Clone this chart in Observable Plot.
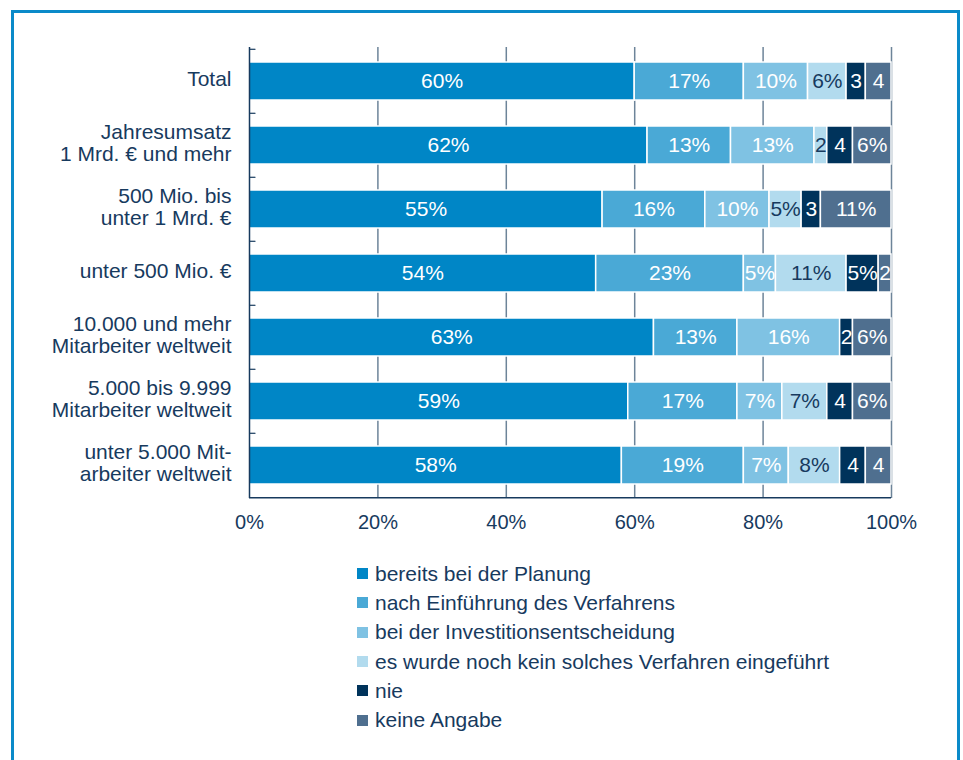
<!DOCTYPE html>
<html>
<head>
<meta charset="utf-8">
<script src="https://cdn.jsdelivr.net/npm/d3@7"></script>
<script src="https://cdn.jsdelivr.net/npm/@observablehq/plot@0.6"></script>
<style>
  html, body { margin: 0; padding: 0; background: #fff; }
  body { width: 963px; height: 760px; overflow: hidden; position: relative; font-family: "Liberation Sans", Arial, sans-serif; }
  #border { position: absolute; left: 11px; top: 10px; width: 949px; height: 800px; border: 3px solid #0a8ac9; box-sizing: border-box; }
  #chart { position: absolute; left: 0; top: 0; }
  #legend { position: absolute; left: 357px; top: 559px; color: #173a5e; font-size: 21px; }
  .item { height: 29.3px; display: flex; align-items: center; }
  .sw { width: 11px; height: 11px; margin-right: 7px; flex: none; }
</style>
</head>
<body>
<div id="border"></div>
<div id="chart"></div>
<div id="legend"></div>
<script>
const categories = [
  "Total",
  "Jahresumsatz\n1 Mrd. € und mehr",
  "500 Mio. bis\nunter 1 Mrd. €",
  "unter 500 Mio. €",
  "10.000 und mehr\nMitarbeiter weltweit",
  "5.000 bis 9.999\nMitarbeiter weltweit",
  "unter 5.000 Mit-\narbeiter weltweit"
];
const series = [
  "bereits bei der Planung",
  "nach Einführung des Verfahrens",
  "bei der Investitionsentscheidung",
  "es wurde noch kein solches Verfahren eingeführt",
  "nie",
  "keine Angabe"
];
const colors = ["#0086c6", "#4aa9d6", "#7fc2e3", "#b2dbee", "#00335b", "#4f6f8f"];
// values per series, in category order
const planung      = [60, 62, 55, 54, 63, 59, 58];
const einfuehrung  = [17, 13, 16, 23, 13, 17, 19];
const investition  = [10, 13, 10,  5, 16,  7,  7];
const keinVerfahren= [ 6,  2,  5, 11,  0,  7,  8];
const nie          = [ 3,  4,  3,  5,  2,  4,  4];
const keineAngabe  = [ 4,  6, 11,  2,  6,  6,  4];
const xTicks = [0, 20, 40, 60, 80, 100];

const seriesValues = [planung, einfuehrung, investition, keinVerfahren, nie, keineAngabe];
const data = [];
categories.forEach((c, i) => {
  series.forEach((s, j) => {
    data.push({cat: c, series: s, value: seriesValues[j][i]});
  });
});
const light = series[3];
const fmt = d => d.value === 0 ? "" : (d.value >= 5 ? d.value + "%" : String(d.value));
const navy = "#173a5e";

const W = 963, H = 545, mL = 249, mR = 72, mT = 47, mB = 47;
const halfStep = (H - mT - mB) / categories.length / 2;

const plot = Plot.plot({
  width: W, height: H,
  marginLeft: mL, marginRight: mR, marginTop: mT, marginBottom: mB,
  style: {fontFamily: "'Liberation Sans', Arial, sans-serif", background: "transparent", color: navy},
  x: {domain: [0, 100], axis: null},
  y: {domain: categories, paddingInner: 0.41, paddingOuter: 0.205, axis: null},
  color: {domain: series, range: colors},
  marks: [
    Plot.ruleX(xTicks.slice(1), {stroke: "#6d8499", strokeWidth: 1.5}),
    Plot.barX(data, Plot.stackX({x: "value", y: "cat", fill: "series", order: series, stroke: "white", strokeWidth: 1.5})),
    Plot.text(data, Plot.stackX({x: "value", y: "cat", z: "series", order: series,
      text: d => d.series === light ? "" : fmt(d), fill: "white", fontSize: 21})),
    Plot.text(data, Plot.stackX({x: "value", y: "cat", z: "series", order: series,
      text: d => d.series === light ? fmt(d) : "", fill: navy, fontSize: 21})),
    Plot.ruleX([0], {stroke: navy, strokeWidth: 1.5}),
    Plot.ruleY(categories, {y: d => d, dy: -halfStep, x1: 0, x2: 1, stroke: navy, strokeWidth: 1.2}),
    Plot.ruleY([categories[categories.length - 1]], {y: d => d, dy: halfStep, x1: 0, x2: 100, stroke: navy, strokeWidth: 1.5}),
    Plot.axisX(xTicks, {tickSize: 0, tickPadding: 16, fontSize: 20, tickFormat: d => d + "%", fill: navy, label: null}),
    Plot.axisY({tickSize: 0, tickPadding: 18, fontSize: 21, lineHeight: 1.05, fill: navy, label: null, dy: -3})
  ]
});
document.getElementById("chart").appendChild(plot);

const legend = document.getElementById("legend");
series.forEach((s, i) => {
  const row = document.createElement("div");
  row.className = "item";
  const sw = document.createElement("span");
  sw.className = "sw";
  sw.style.background = colors[i];
  const t = document.createElement("span");
  t.textContent = s;
  row.appendChild(sw); row.appendChild(t);
  legend.appendChild(row);
});
</script>
</body>
</html>
